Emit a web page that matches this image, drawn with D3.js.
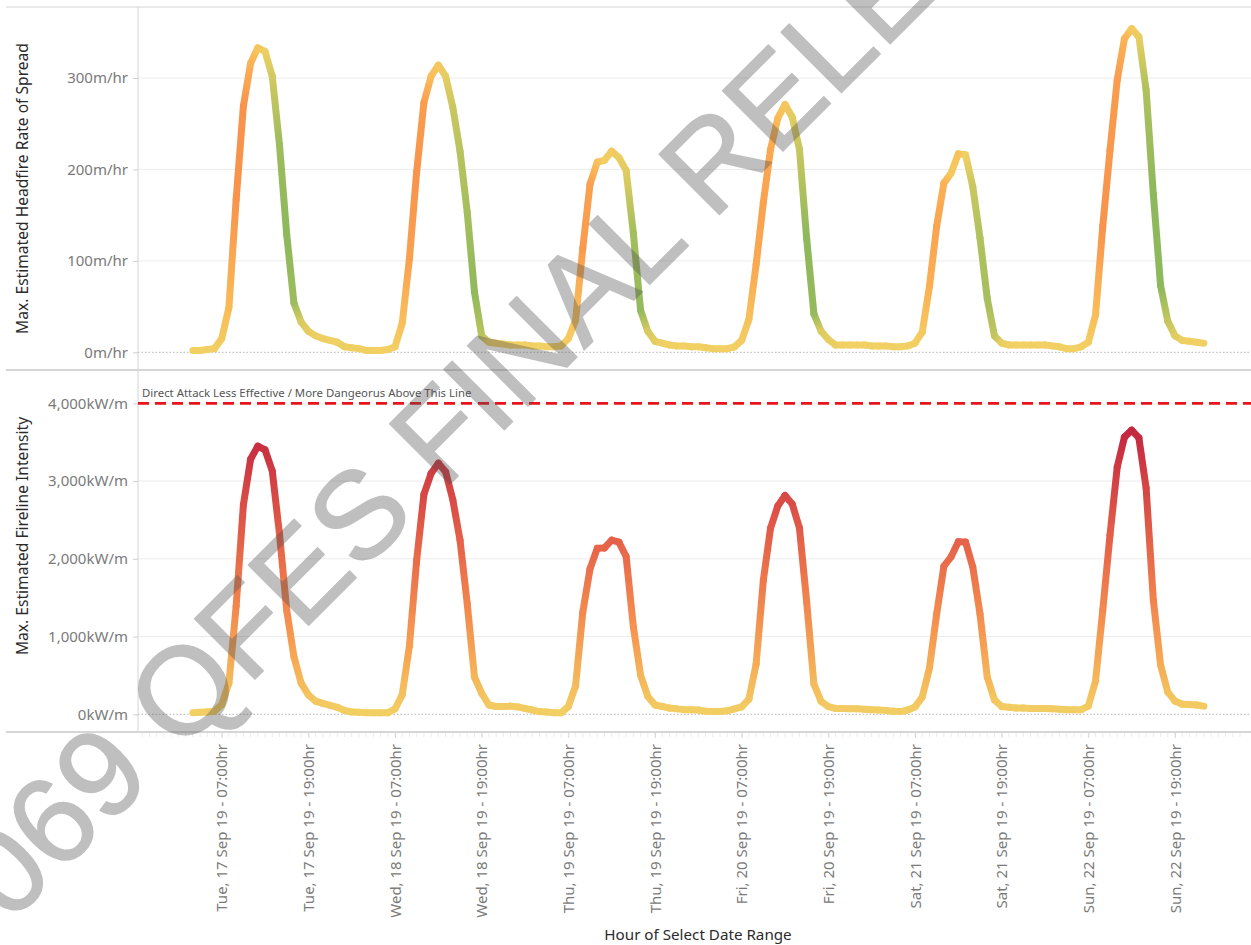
<!DOCTYPE html>
<html><head><meta charset="utf-8">
<script src="https://cdn.jsdelivr.net/npm/d3@7"></script>
<style>
body{margin:0;background:#fff;}
svg{display:block;font-family:"Noto Sans",sans-serif;}
</style></head><body>
<svg id="chart" width="1251" height="945"></svg>
<script>
// ---------- DATA ----------
const days = ["2019-09-17","2019-09-18","2019-09-19","2019-09-20","2019-09-21","2019-09-22"];
const firstHours = [3,0,0,0,0,0];

// Max. Estimated Headfire Rate of Spread (m/hr), hourly
const rosTue = [2,2,3,4,15,49,167,269,316,333,329,302,227,129,54,33,23,18,15,13,11];
const rosWed = [6,5,4,2,2,2,3,6,32,103,198,273,302,314,302,268,220,153,66,18,11,10,9,8];
const rosThu = [8,8,7,7,6,6,7,15,35,114,184,208,210,220,213,199,130,46,23,12,10,8,7,7];
const rosFri = [6,6,5,4,4,4,6,13,36,96,164,222,256,271,257,222,124,42,23,14,8,8,8,8];
const rosSat = [8,7,7,7,6,6,7,10,22,72,138,185,196,217,216,181,125,59,18,10,8,8,8,8];
const rosSun = [8,8,7,6,4,4,6,11,41,138,221,298,343,354,345,287,173,73,34,18,13,12,11,10];

// Max. Estimated Fireline Intensity (kW/m), hourly
const fliTue = [20,25,30,40,125,400,1390,2690,3280,3450,3400,3130,2320,1340,740,400,250,170,140,115,90];
const fliWed = [50,30,25,20,20,20,20,70,250,885,1985,2830,3100,3230,3120,2760,2240,1420,480,270,120,100,100,105];
const fliThu = [95,75,55,35,30,20,20,100,365,1315,1870,2135,2140,2240,2215,2030,1125,505,230,120,100,80,70,60];
const fliFri = [60,55,40,35,35,45,70,95,195,645,1725,2395,2680,2815,2705,2395,1445,390,165,100,75,75,70,70];
const fliSat = [65,60,55,50,40,35,55,95,220,595,1290,1905,2025,2220,2215,1895,1290,480,185,100,90,80,80,75];
const fliSun = [75,75,70,65,60,60,60,105,430,1340,2305,3180,3565,3655,3555,2910,1470,635,285,170,130,125,120,105];

const rosTicks = [0,100,200,300];
const fliTicks = [0,1000,2000,3000,4000];
const thresholdValue = 4000;
const thresholdLabel = "Direct Attack Less Effective / More Dangeorus Above This Line";
const xTickTimes = ["2019-09-17 07","2019-09-17 19","2019-09-18 07","2019-09-18 19","2019-09-19 07","2019-09-19 19",
                    "2019-09-20 07","2019-09-20 19","2019-09-21 07","2019-09-21 19","2019-09-22 07","2019-09-22 19"];
const rosTitle = "Max. Estimated Headfire Rate of Spread";
const fliTitle = "Max. Estimated Fireline Intensity";
const xTitle = "Hour of Select Date Range";
const watermark = "069 QFES FINAL RELEASE";

// ---------- BUILD ----------
const parseHour = d3.timeParse("%Y-%m-%d %H");
function buildSeries(arrs){
  const out=[];
  arrs.forEach((arr,d)=>arr.forEach((v,i)=>out.push({t:parseHour(days[d]+" "+(firstHours[d]+i)), v})));
  return out;
}
const ros = buildSeries([rosTue,rosWed,rosThu,rosFri,rosSat,rosSun]);
const fli = buildSeries([fliTue,fliWed,fliThu,fliFri,fliSat,fliSun]);

const svg = d3.select("#chart");
const W = 1251, plotL = 138, plotR = 1251;
const topPanel = [7,370], botPanel = [370,732];

const x = d3.scaleTime()
  .domain([parseHour("2019-09-17 07"), parseHour("2019-09-22 19")])
  .range([221.7, 1175]);
const yRos = d3.scaleLinear().domain([0,300]).range([352.3,78]);
const yFli = d3.scaleLinear().domain([0,4000]).range([714.3,403.3]);

const rosColor = d3.scaleLinear().domain([-90,-45,0,40,90])
  .range(["#8db85c","#bcc45e","#f2d063","#fbb656","#f8934c"]).clamp(true);
const fliColor = d3.scaleLinear().domain([0,1000,2250,3650])
  .range(["#f2d063","#f8984f","#e5604a","#c3273f"]).clamp(true);

ros.forEach((d,i)=>{ d.c = rosColor(i===0?0:d.v-ros[i-1].v); });
fli.forEach(d=>{ d.c = fliColor(d.v); });

const defs = svg.append("defs");
defs.append("clipPath").attr("id","clipTop").append("rect")
  .attr("x",plotL).attr("y",topPanel[0]).attr("width",plotR-plotL).attr("height",topPanel[1]-topPanel[0]);
defs.append("clipPath").attr("id","clipBot").append("rect")
  .attr("x",plotL).attr("y",botPanel[0]).attr("width",plotR-plotL).attr("height",botPanel[1]-botPanel[0]);

// gridlines
function grid(y, ticks){
  svg.append("g").selectAll("line").data(ticks.filter(t=>t!==0)).join("line")
    .attr("x1",plotL).attr("x2",plotR).attr("y1",d=>y(d)).attr("y2",d=>y(d))
    .attr("stroke","#ececec").attr("stroke-width",1);
  svg.append("line").attr("x1",plotL).attr("x2",plotR).attr("y1",y(0)).attr("y2",y(0))
    .attr("stroke","#b5b5b5").attr("stroke-width",1).attr("stroke-dasharray","1.5,2");
}
grid(yRos, rosTicks);
grid(yFli, fliTicks);

// frame lines
svg.append("line").attr("x1",6).attr("x2",W).attr("y1",topPanel[0]).attr("y2",topPanel[0]).attr("stroke","#d4d4d4");
svg.append("line").attr("x1",6).attr("x2",W).attr("y1",topPanel[1]).attr("y2",topPanel[1]).attr("stroke","#c8c8c8").attr("stroke-width",1.5);
svg.append("line").attr("x1",6).attr("x2",W).attr("y1",botPanel[1]).attr("y2",botPanel[1]).attr("stroke","#c8c8c8").attr("stroke-width",1.5);
svg.append("line").attr("x1",plotL).attr("x2",plotL).attr("y1",topPanel[0]).attr("y2",botPanel[1]).attr("stroke","#d4d4d4");

// y axes
function yAxis(y, ticks, fmt){
  const g = svg.append("g").attr("transform",`translate(${plotL},0)`)
    .call(d3.axisLeft(y).tickValues(ticks).tickSize(5).tickPadding(5).tickFormat(fmt));
  g.select(".domain").remove();
  g.selectAll(".tick line").attr("stroke","#d0d0d0");
  g.selectAll("text").attr("fill","#7a7a7a").attr("font-size",15).attr("font-family","Noto Sans");
}
yAxis(yRos, rosTicks, d=>d+"m/hr");
yAxis(yFli, fliTicks, d=>d3.format(",")(d)+"kW/m");

// threshold
svg.append("line").attr("x1",plotL).attr("x2",plotR)
  .attr("y1",yFli(thresholdValue)).attr("y2",yFli(thresholdValue))
  .attr("stroke","#e8141b").attr("stroke-width",2.8).attr("stroke-dasharray","11,6");
svg.append("text").attr("x",plotL+4).attr("y",yFli(thresholdValue)-6)
  .attr("font-size",11.4).attr("fill","#555").text(thresholdLabel);

// series
function drawSeries(data, y, clip, prefix){
  const g = svg.append("g").attr("clip-path",`url(#${clip})`);
  for(let i=0;i<data.length-1;i++){
    const a=data[i], b=data[i+1];
    const x1=x(a.t), y1=y(a.v), x2=x(b.t), y2=y(b.v);
    const id=prefix+i;
    const gr = defs.append("linearGradient").attr("id",id).attr("gradientUnits","userSpaceOnUse")
      .attr("x1",x1).attr("y1",y1).attr("x2",x2).attr("y2",y2);
    gr.append("stop").attr("offset",0).attr("stop-color",a.c);
    gr.append("stop").attr("offset",1).attr("stop-color",b.c);
    g.append("line").attr("x1",x1).attr("y1",y1).attr("x2",x2).attr("y2",y2)
      .attr("stroke",`url(#${id})`).attr("stroke-width",7).attr("stroke-linecap","round");
  }
}
drawSeries(ros, yRos, "clipTop", "gr");
drawSeries(fli, yFli, "clipBot", "gf");

// x axis
const xTicks = xTickTimes.map(parseHour);
const minor = d3.timeHour.every(1).range(parseHour("2019-09-16 20"), parseHour("2019-09-23 05"));
svg.append("g").selectAll("line").data(minor).join("line")
  .attr("x1",d=>x(d)).attr("x2",d=>x(d)).attr("y1",botPanel[1]+1).attr("y2",botPanel[1]+5)
  .attr("stroke","#ececec");
const xg = svg.append("g").attr("transform",`translate(0,${botPanel[1]})`)
  .call(d3.axisBottom(x).tickValues(xTicks).tickSize(6).tickFormat(d3.timeFormat("%a, %-d %b %y - %H:%Mhr")));
xg.select(".domain").remove();
xg.selectAll(".tick line").attr("stroke","#d8d8d8");
xg.selectAll("text").attr("transform","rotate(-90)").attr("text-anchor","end")
  .attr("x",-12).attr("y",0).attr("dy","0.35em")
  .attr("fill","#7a7a7a").attr("font-size",15).attr("font-family","Noto Sans");

// titles
svg.append("text").attr("transform",`translate(28,${(42+335)/2}) rotate(-90)`)
  .attr("text-anchor","middle").attr("font-size",15.6).attr("fill","#2b2b2b").text(rosTitle);
svg.append("text").attr("transform",`translate(28,${(432+640)/2}) rotate(-90)`)
  .attr("text-anchor","middle").attr("font-size",15.6).attr("fill","#2b2b2b").text(fliTitle);
svg.append("text").attr("x",698).attr("y",940).attr("text-anchor","middle")
  .attr("font-size",15.2).attr("fill","#2b2b2b").text(xTitle);

// watermark
svg.append("text").attr("transform","translate(9,925) rotate(-45)")
  .attr("font-family","Liberation Sans").attr("font-size",124)
  .attr("fill","#505050").attr("stroke","#505050").attr("stroke-width",1.5)
  .attr("stroke-linejoin","round").attr("opacity",0.36).text(watermark);
</script>
</body></html>
